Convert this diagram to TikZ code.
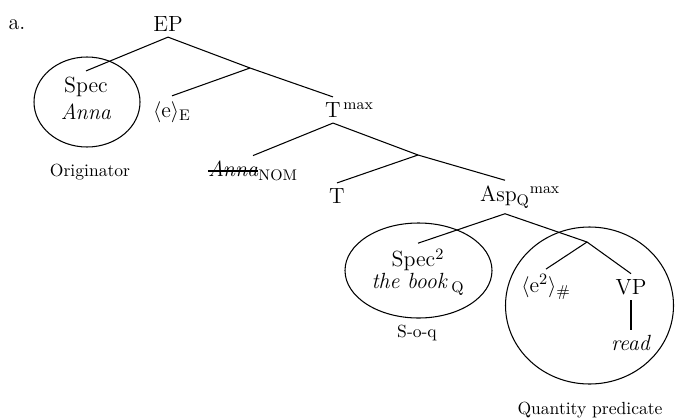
\documentclass[tikz,border=0pt]{standalone}
\usepackage{amsmath,amssymb}

\newcommand\strikeword[1]{\setbox0\hbox{#1}\rlap{\rule[0.55ex]{\wd0}{0.7pt}}\box0}

\tikzset{
  cat/.style={font=\fontsize{12.5}{15.5}\selectfont, inner xsep=2pt, inner ysep=3pt, align=center},
  gloss/.style={font=\fontsize{10}{12}\selectfont},
  branch/.style={line width=0.6pt},
  ring/.style={line width=0.6pt}
}

\begin{document}
\begin{tikzpicture}[x=0.02cm, y=-0.02cm]
    \useasboundingbox (0,0) rectangle (675,419);

    % Label of the example
    \node[cat] (lab) at (17,25) {a.};

    % Top of the tree
    \node[cat] (EP) at (168,24) {EP};
    \coordinate (jE) at (250,68);
    \node[cat] (SpecA) at (86,98) {Spec\\\textit{Anna}};
    \node[cat] (eE) at (172,112) {$\langle$e$\rangle_{\text{E}}$};
    \node[cat] (Tmax) at (333,110) {T\rlap{$^{\,\text{max}}$}};

    \draw[branch] (EP.south) -- (SpecA.north);
    \draw[branch] (EP.south) -- (jE) -- (Tmax.north);
    \draw[branch] (jE) -- (eE.north);

    % Originator
    \draw[ring] (87,102) ellipse [x radius=53, y radius=45];
    \node[gloss] (orig) at (90,172) {Originator};

    % T layer
    \coordinate (jT) at (418,155);
    \node[cat] (AnnaNOM) at (253,171) {\strikeword{\textit{Anna}}$_{\text{NOM}}$};
    \node[cat] (T) at (337,196) {T};
    \node[cat] (Asp) at (505,197) {Asp$_{\text{Q}}$\rlap{$^{\text{max}}$}};

    \draw[branch] (Tmax.south) -- (AnnaNOM.north);
    \draw[branch] (Tmax.south) -- (jT) -- (Asp.north);
    \draw[branch] (jT) -- (T.north);

    % Asp layer
    \coordinate (jA) at (587,242);
    \node[cat, font=\fontsize{12.5}{12.5}\selectfont] (Spec2) at (418,272) {Spec$^{2}$\\\textit{the book}\,$_{\text{Q}}$};
    \node[cat] (e2) at (546,287) {$\langle$e$^{2}\rangle_{\#}$};
    \node[cat] (VP) at (631,287) {VP};
    \node[cat] (read) at (631,343) {\textit{read}};

    \draw[branch] (Asp.south) -- (Spec2.north);
    \draw[branch] (Asp.south) -- (jA) -- (VP.north);
    \draw[branch] (jA) -- (e2.north);
    \draw[branch] (VP.south) -- (read.north);

    % Subject of quantity and quantity predicate
    \draw[ring] (418.5,270.5) ellipse [x radius=73.5, y radius=47.5];
    \node[gloss] (soq) at (417,333) {S-o-q};
    \draw[ring] (589.5,305.5) ellipse [x radius=84, y radius=78.5];
    \node[gloss] (qpred) at (590,410) {Quantity predicate};
\end{tikzpicture}
\end{document}
